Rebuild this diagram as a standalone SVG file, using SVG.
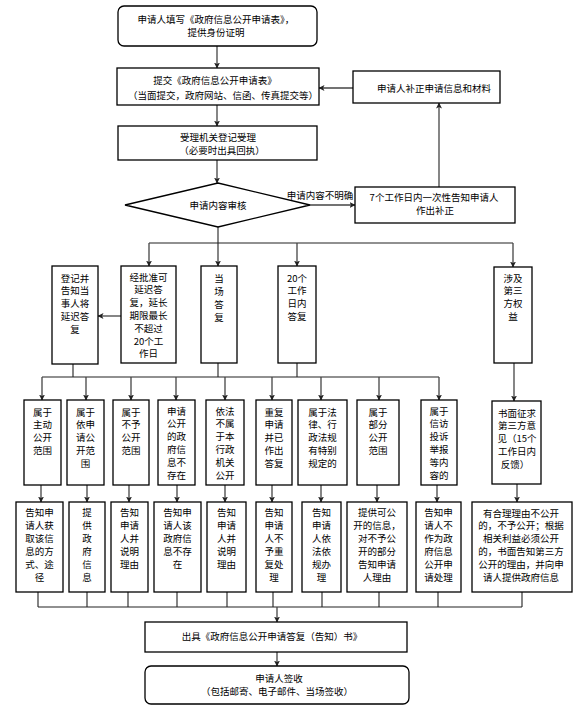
<svg xmlns="http://www.w3.org/2000/svg" width="585" height="717" viewBox="0 0 585 717">
<defs>
<marker id="arr" markerUnits="userSpaceOnUse" markerWidth="7" markerHeight="7" refX="5.5" refY="3" orient="auto">
<path d="M0,0 L6,3 L0,6 L1.5,3 z" fill="#222"/>
</marker>
<style>
.b{fill:#fff;stroke:#000;stroke-width:1.3}
.t{font-family:"Noto Sans CJK SC","Noto Sans",sans-serif;font-size:9.5px;fill:#000;text-anchor:middle}
.c{fill:none;stroke:#222;stroke-width:1.1}
.a{fill:none;stroke:#444;stroke-width:1.3;marker-end:url(#arr)}
</style>
</defs>
<rect width="585" height="717" fill="#fff"/>

<g id="connectors">
<path class="a" d="M217,46 V68"/>
<path class="a" d="M217,105 V126"/>
<path class="a" d="M217,160 V183"/>
<path class="a" d="M310,205 H355"/>
<path class="a" d="M439,187 V103"/>
<path class="a" d="M353,88 H319"/>
<path class="a" d="M218,227 V266"/>
<path class="c" d="M149,243 H513"/>
<path class="a" d="M149,243 V266"/>
<path class="a" d="M297,243 V266"/>
<path class="a" d="M513,243 V267"/>
<path class="a" d="M121,316 H98"/>
<path class="c" d="M73,364 V377 M218,363 V377 M297,363 V377 M42,377 H439"/>
<path class="a" d="M42,377 V400"/>
<path class="a" d="M86,377 V400"/>
<path class="a" d="M131,377 V400"/>
<path class="a" d="M176,377 V400"/>
<path class="a" d="M225,377 V400"/>
<path class="a" d="M272,377 V400"/>
<path class="a" d="M321,377 V400"/>
<path class="a" d="M379,377 V400"/>
<path class="a" d="M439,377 V400"/>
<path class="a" d="M514,363 V401"/>
<path class="a" d="M41,485 V502"/>
<path class="a" d="M87,485 V502"/>
<path class="a" d="M129,485 V502"/>
<path class="a" d="M177,485 V502"/>
<path class="a" d="M225,485 V502"/>
<path class="a" d="M272,485 V502"/>
<path class="a" d="M321,485 V502"/>
<path class="a" d="M377,485 V502"/>
<path class="a" d="M437,485 V502"/>
<path class="a" d="M517,484 V502"/>
<path class="c" d="M38,592 V607 M87,592 V607 M128,592 V607 M177,592 V607 M227,592 V607 M273,592 V607 M322,592 V607 M379,592 V607 M438,592 V607 M522,592 V607 M38,607 H522"/>
<path class="a" d="M277,607 V622"/>
<path class="a" d="M277,652 V666"/>
</g>

<g id="n-start">
<rect class="b" x="118" y="6" width="199" height="40" rx="6"/>
<text class="t" x="216" y="22.5">申请人填写《政府信息公开申请表》，</text>
<text class="t" x="216" y="35.5">提供身份证明</text>
</g>
<g id="n-submit">
<rect class="b" x="117" y="68" width="202" height="37"/>
<text class="t" x="215" y="83.5">提交《政府信息公开申请表》</text>
<text class="t" x="223" y="98.5">（当面提交，政府网站、信函、传真提交等）</text>
</g>
<g id="n-supplement">
<rect class="b" x="353" y="71" width="147" height="32"/>
<text class="t" x="434" y="91.5">申请人补正申请信息和材料</text>
</g>
<g id="n-accept">
<rect class="b" x="118" y="126" width="199" height="34"/>
<text class="t" x="218" y="140.5">受理机关登记受理</text>
<text class="t" x="222" y="153.5">（必要时出具回执）</text>
</g>
<g id="n-review">
<polygon class="b" points="125,205 218,183 310,205 218,227"/>
<text class="t" x="218" y="208.5">申请内容审核</text>
</g>
<text class="t" x="320" y="198.5">申请内容不明确</text>
<g id="n-notify7">
<rect class="b" x="355" y="187" width="160" height="36"/>
<text class="t" x="434" y="200.5">7个工作日内一次性告知申请人</text>
<text class="t" x="435" y="213.5">作出补正</text>
</g>

<g id="r1-register">
<rect class="b" x="52" y="266" width="46" height="98"/>
<text class="t" x="75" y="281.5">登记并<tspan x="75" dy="12.8">告知当</tspan><tspan x="75" dy="12.8">事人将</tspan><tspan x="75" dy="12.8">延迟答</tspan><tspan x="75" dy="12.8">复</tspan></text>
</g>
<g id="r1-delay">
<rect class="b" x="121" y="266" width="55" height="97"/>
<text class="t" x="148.5" y="280.5">经批准可<tspan x="148.5" dy="12.8">延迟答</tspan><tspan x="148.5" dy="12.8">复，延长</tspan><tspan x="148.5" dy="12.8">期限最长</tspan><tspan x="148.5" dy="12.8">不超过</tspan><tspan x="148.5" dy="12.8">20个工</tspan><tspan x="148.5" dy="12.8">作日</tspan></text>
</g>
<g id="r1-spot">
<rect class="b" x="201" y="266" width="36" height="97"/>
<text class="t" x="219" y="281.5">当<tspan x="219" dy="13">场</tspan><tspan x="219" dy="13">答</tspan><tspan x="219" dy="13">复</tspan></text>
</g>
<g id="r1-20days">
<rect class="b" x="278" y="266" width="38" height="97"/>
<text class="t" x="297" y="281.5">20个<tspan x="297" dy="12.8">工作</tspan><tspan x="297" dy="12.8">日内</tspan><tspan x="297" dy="12.8">答复</tspan></text>
</g>
<g id="r1-third">
<rect class="b" x="494" y="267" width="38" height="96"/>
<text class="t" x="513" y="281.5">涉及<tspan x="513" dy="12.8">第三</tspan><tspan x="513" dy="12.8">方权</tspan><tspan x="513" dy="12.8">益</tspan></text>
</g>

<g id="r2-1">
<rect class="b" x="24" y="400" width="37" height="85"/>
<text class="t" x="42.5" y="415.5">属于<tspan x="42.5" dy="12.8">主动</tspan><tspan x="42.5" dy="12.8">公开</tspan><tspan x="42.5" dy="12.8">范围</tspan></text>
</g>
<g id="r2-2">
<rect class="b" x="67" y="400" width="37" height="85"/>
<text class="t" x="85.5" y="415.5">属于<tspan x="85.5" dy="12.8">依申</tspan><tspan x="85.5" dy="12.8">请公</tspan><tspan x="85.5" dy="12.8">开范</tspan><tspan x="85.5" dy="12.8">围</tspan></text>
</g>
<g id="r2-3">
<rect class="b" x="113" y="400" width="36" height="85"/>
<text class="t" x="131" y="415.5">属于<tspan x="131" dy="12.8">不予</tspan><tspan x="131" dy="12.8">公开</tspan><tspan x="131" dy="12.8">范围</tspan></text>
</g>
<g id="r2-4">
<rect class="b" x="158" y="400" width="37" height="85"/>
<text class="t" x="176.5" y="414.5">申请<tspan x="176.5" dy="12.8">公开</tspan><tspan x="176.5" dy="12.8">的政</tspan><tspan x="176.5" dy="12.8">府信</tspan><tspan x="176.5" dy="12.8">息不</tspan><tspan x="176.5" dy="12.8">存在</tspan></text>
</g>
<g id="r2-5">
<rect class="b" x="206" y="400" width="38" height="85"/>
<text class="t" x="225" y="414.5">依法<tspan x="225" dy="12.8">不属</tspan><tspan x="225" dy="12.8">于本</tspan><tspan x="225" dy="12.8">行政</tspan><tspan x="225" dy="12.8">机关</tspan><tspan x="225" dy="12.8">公开</tspan></text>
</g>
<g id="r2-6">
<rect class="b" x="256" y="400" width="36" height="85"/>
<text class="t" x="274" y="415.5">重复<tspan x="274" dy="12.8">申请</tspan><tspan x="274" dy="12.8">并已</tspan><tspan x="274" dy="12.8">作出</tspan><tspan x="274" dy="12.8">答复</tspan></text>
</g>
<g id="r2-7">
<rect class="b" x="298" y="400" width="49" height="85"/>
<text class="t" x="322.5" y="415.5">属于法<tspan x="322.5" dy="12.8">律、行</tspan><tspan x="322.5" dy="12.8">政法规</tspan><tspan x="322.5" dy="12.8">有特别</tspan><tspan x="322.5" dy="12.8">规定的</tspan></text>
</g>
<g id="r2-8">
<rect class="b" x="357" y="400" width="42" height="85"/>
<text class="t" x="378" y="415.5">属于<tspan x="378" dy="12.8">部分</tspan><tspan x="378" dy="12.8">公开</tspan><tspan x="378" dy="12.8">范围</tspan></text>
</g>
<g id="r2-9">
<rect class="b" x="421" y="400" width="36" height="85"/>
<text class="t" x="439" y="414.5">属于<tspan x="439" dy="12.8">信访</tspan><tspan x="439" dy="12.8">投诉</tspan><tspan x="439" dy="12.8">举报</tspan><tspan x="439" dy="12.8">等内</tspan><tspan x="439" dy="12.8">容的</tspan></text>
</g>
<g id="r2-10">
<rect class="b" x="492" y="401" width="49" height="83"/>
<text class="t" x="517" y="416.5">书面征求<tspan x="517" dy="12.8">第三方意</tspan><tspan x="517" dy="12.8">见（15个</tspan><tspan x="517" dy="12.8">工作日内</tspan><tspan x="515" dy="12.8">反馈）</tspan></text>
</g>

<g id="r3-1">
<rect class="b" x="16" y="502" width="47" height="90"/>
<text class="t" x="39.5" y="515.5">告知申<tspan x="39.5" dy="13">请人获</tspan><tspan x="39.5" dy="13">取该信</tspan><tspan x="39.5" dy="13">息的方</tspan><tspan x="39.5" dy="13">式、途</tspan><tspan x="39.5" dy="13">径</tspan></text>
</g>
<g id="r3-2">
<rect class="b" x="69" y="502" width="36" height="90"/>
<text class="t" x="87" y="515.5">提<tspan x="87" dy="13">供</tspan><tspan x="87" dy="13">政</tspan><tspan x="87" dy="13">府</tspan><tspan x="87" dy="13">信</tspan><tspan x="87" dy="13">息</tspan></text>
</g>
<g id="r3-3">
<rect class="b" x="111" y="502" width="37" height="90"/>
<text class="t" x="129.5" y="515.5">告知<tspan x="129.5" dy="13">申请</tspan><tspan x="129.5" dy="13">人并</tspan><tspan x="129.5" dy="13">说明</tspan><tspan x="129.5" dy="13">理由</tspan></text>
</g>
<g id="r3-4">
<rect class="b" x="154" y="502" width="47" height="90"/>
<text class="t" x="177.5" y="515.5">告知申<tspan x="177.5" dy="13">请人该</tspan><tspan x="177.5" dy="13">政府信</tspan><tspan x="177.5" dy="13">息不存</tspan><tspan x="177.5" dy="13">在</tspan></text>
</g>
<g id="r3-5">
<rect class="b" x="207" y="502" width="39" height="90"/>
<text class="t" x="226.5" y="515.5">告知<tspan x="226.5" dy="13">申请</tspan><tspan x="226.5" dy="13">人并</tspan><tspan x="226.5" dy="13">说明</tspan><tspan x="226.5" dy="13">理由</tspan></text>
</g>
<g id="r3-6">
<rect class="b" x="256" y="502" width="36" height="90"/>
<text class="t" x="274" y="515.5">告知<tspan x="274" dy="13">申请</tspan><tspan x="274" dy="13">人不</tspan><tspan x="274" dy="13">予重</tspan><tspan x="274" dy="13">复处</tspan><tspan x="274" dy="13">理</tspan></text>
</g>
<g id="r3-7">
<rect class="b" x="302" y="502" width="39" height="90"/>
<text class="t" x="321.5" y="515.5">告知<tspan x="321.5" dy="13">申请</tspan><tspan x="321.5" dy="13">人依</tspan><tspan x="321.5" dy="13">法依</tspan><tspan x="321.5" dy="13">规办</tspan><tspan x="321.5" dy="13">理</tspan></text>
</g>
<g id="r3-8">
<rect class="b" x="347" y="502" width="60" height="90"/>
<text class="t" x="377" y="515.5">提供可公<tspan x="377" dy="13">开的信息，</tspan><tspan x="377" dy="13">对不予公</tspan><tspan x="377" dy="13">开的部分</tspan><tspan x="377" dy="13">告知申请</tspan><tspan x="377" dy="13">人理由</tspan></text>
</g>
<g id="r3-9">
<rect class="b" x="416" y="502" width="45" height="90"/>
<text class="t" x="438.5" y="515.5">告知申<tspan x="438.5" dy="13">请人不</tspan><tspan x="438.5" dy="13">作为政</tspan><tspan x="438.5" dy="13">府信息</tspan><tspan x="438.5" dy="13">公开申</tspan><tspan x="438.5" dy="13">请处理</tspan></text>
</g>
<g id="r3-10">
<rect class="b" x="472" y="502" width="100" height="90"/>
<text class="t" x="521" y="516.5">有合理理由不公开<tspan x="521" dy="12.9">的，不予公开；根据</tspan><tspan x="521" dy="12.9">相关利益必须公开</tspan><tspan x="521" dy="12.9">的，书面告知第三方</tspan><tspan x="521" dy="12.9">公开的理由，并向申</tspan><tspan x="521" dy="12.9">请人提供政府信息</tspan></text>
</g>

<g id="n-reply">
<rect class="b" x="145" y="622" width="262" height="30"/>
<text class="t" x="272" y="639.5">出具《政府信息公开申请答复（告知）书》</text>
</g>
<g id="n-sign">
<rect class="b" x="145" y="666" width="264" height="38" rx="6"/>
<text class="t" x="279" y="682">申请人签收</text>
<text class="t" x="277" y="695">（包括邮寄、电子邮件、当场签收）</text>
</g>
</svg>
